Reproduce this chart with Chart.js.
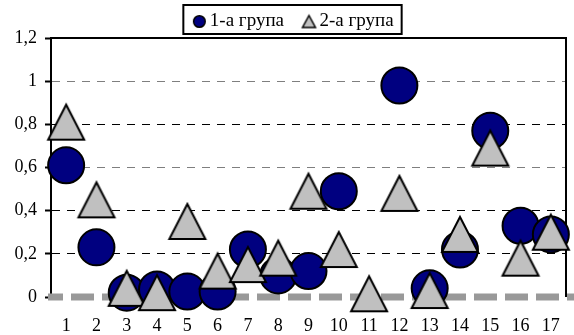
<!DOCTYPE html>
<html>
<head>
<meta charset="utf-8">
<script src="https://cdn.jsdelivr.net/npm/chart.js@4.4.1/dist/chart.umd.min.js"></script>
<style>
  html, body { margin: 0; padding: 0; background: #ffffff; }
  #wrap { width: 574px; height: 335px; position: relative; }
  .fontwarm { position: absolute; left: -1000px; top: 0; font: 18px "Liberation Serif"; }
</style>
</head>
<body>
<div id="wrap"><canvas id="chart" width="574" height="335"></canvas></div>
<span class="fontwarm">1-а група 0,2</span>
<script>
// Categories along the x axis
const categories = ['1', '2', '3', '4', '5', '6', '7', '8', '9', '10', '11', '12', '13', '14', '15', '16', '17'];

// Series values
const group1 = [0.61, 0.23, 0.02, 0.035, 0.025, 0.025, 0.22, 0.10, 0.12, 0.49, null, 0.98, 0.04, 0.22, 0.77, 0.33, 0.29];
const group2 = [0.81, 0.45, 0.04, 0.02, 0.35, 0.12, 0.15, 0.18, 0.49, 0.22, 0.015, 0.48, 0.03, 0.29, 0.69, 0.18, 0.30];

// Series names and y tick labels
const seriesNames = ['1-а група', '2-а група'];
const yTickLabels = ['0', '0,2', '0,4', '0,6', '0,8', '1', '1,2'];

const FONT = "'Liberation Serif', 'Times New Roman', serif";
const LEGEND_SHIFT = 13;

// Isosceles triangle marker drawn onto its own small canvas
function triangleMarker(w, h, lw) {
  const pad = Math.ceil(lw * 2);
  const c = document.createElement('canvas');
  c.width = w + pad * 2;
  c.height = h + pad * 2;
  const g = c.getContext('2d');
  g.beginPath();
  g.moveTo(pad + w / 2, pad);
  g.lineTo(pad + w, pad + h);
  g.lineTo(pad, pad + h);
  g.closePath();
  g.fillStyle = '#c0c0c0';
  g.fill();
  g.lineWidth = lw;
  g.lineJoin = 'miter';
  g.strokeStyle = '#000000';
  g.stroke();
  return c;
}

// Filled circle marker for the legend
function circleMarker(r, lw) {
  const size = Math.ceil((r + lw) * 2) + 2;
  const c = document.createElement('canvas');
  c.width = size;
  c.height = size;
  const g = c.getContext('2d');
  g.beginPath();
  g.arc(size / 2, size / 2, r, 0, Math.PI * 2);
  g.fillStyle = '#000080';
  g.fill();
  g.lineWidth = lw;
  g.strokeStyle = '#000000';
  g.stroke();
  return c;
}

// Frame: top and right border plus the heavy dashed zero line
const framePlugin = {
  id: 'frame',
  beforeDatasetsDraw(chart) {
    const { ctx, chartArea, scales } = chart;
    ctx.save();
    ctx.strokeStyle = '#000000';
    ctx.lineWidth = 2;
    ctx.beginPath();
    ctx.moveTo(chartArea.left, chartArea.top);
    ctx.lineTo(chartArea.right, chartArea.top);
    ctx.lineTo(chartArea.right, chartArea.bottom);
    ctx.stroke();

    const y0 = scales.y.getPixelForValue(0);
    ctx.strokeStyle = '#999999';
    ctx.lineWidth = 7;
    ctx.setLineDash([23, 8]);
    ctx.lineDashOffset = 8;
    ctx.beginPath();
    ctx.moveTo(chartArea.left - 3, y0);
    ctx.lineTo(chart.width, y0);
    ctx.stroke();
    ctx.restore();
  }
};

// Legend nudged right of centre, with a rectangle round its items
const legendBoxPlugin = {
  id: 'legendBox',
  afterUpdate(chart) {
    const lg = chart.legend;
    if (!lg) return;
    lg.left += LEGEND_SHIFT;
    lg.right += LEGEND_SHIFT;
    (lg.legendHitBoxes || []).forEach(h => { h.left += LEGEND_SHIFT; });
  },
  afterDraw(chart) {
    const lg = chart.legend;
    if (!lg || !lg.legendHitBoxes || !lg.legendHitBoxes.length) return;
    const boxes = lg.legendHitBoxes;
    let l = Infinity, r = -Infinity, t = Infinity, b = -Infinity;
    boxes.forEach(h => {
      l = Math.min(l, h.left);
      r = Math.max(r, h.left + h.width);
      t = Math.min(t, h.top);
      b = Math.max(b, h.top + h.height);
    });
    const ctx = chart.ctx;
    ctx.save();
    ctx.strokeStyle = '#000000';
    ctx.lineWidth = 2;
    ctx.strokeRect(l - 15, t - 7, (r - l) + 23, (b - t) + 10);
    ctx.restore();
  }
};

function draw() {
  Chart.defaults.font.family = FONT;
  const bigTriangle = triangleMarker(36, 35, 2);
  const legendTriangle = triangleMarker(13, 12, 1.5);
  const legendCircle = circleMarker(5.8, 1.5);

  new Chart(document.getElementById('chart'), {
    type: 'line',
    data: {
      labels: categories,
      datasets: [
        {
          label: seriesNames[0],
          data: group1,
          showLine: false,
          pointStyle: 'circle',
          pointRadius: 18,
          pointHoverRadius: 18,
          backgroundColor: '#000080',
          borderColor: '#000000',
          pointBorderWidth: 2,
          clip: false,
          order: 2
        },
        {
          label: seriesNames[1],
          data: group2,
          showLine: false,
          pointStyle: bigTriangle,
          pointRadius: 18,
          pointHoverRadius: 18,
          backgroundColor: '#c0c0c0',
          borderColor: '#000000',
          clip: false,
          order: 1
        }
      ]
    },
    options: {
      responsive: false,
      animation: false,
      devicePixelRatio: 1,
      layout: { autoPadding: false, padding: { top: -12, right: 8, bottom: 0, left: 0 } },
      plugins: {
        tooltip: { enabled: false },
        legend: {
          display: true,
          position: 'top',
          maxHeight: 50,
          labels: {
            usePointStyle: true,
            pointStyleWidth: 2,
            padding: 24,
            color: '#000000',
            font: { family: FONT, size: 19 },
            generateLabels(chart) {
              return chart.data.datasets.map((ds, i) => ({
                text: ds.label,
                pointStyle: i === 0 ? legendCircle : legendTriangle,
                fillStyle: ds.backgroundColor,
                strokeStyle: '#000000',
                lineWidth: 0,
                hidden: false,
                datasetIndex: i,
                fontColor: '#000000'
              }));
            }
          }
        }
      },
      scales: {
        x: {
          type: 'category',
          offset: true,
          grid: {
            display: true,
            drawOnChartArea: false,
            drawTicks: true,
            tickLength: 18,
            color: 'rgba(0,0,0,0)'
          },
          border: { display: false },
          ticks: {
            color: '#000000',
            font: { family: FONT, size: 18 },
            padding: 0,
            maxRotation: 0,
            autoSkip: false
          },
          afterFit(scale) { scale.height = 38; }
        },
        y: {
          min: 0,
          max: 1.2,
          ticks: {
            stepSize: 0.2,
            color: '#000000',
            font: { family: FONT, size: 18 },
            padding: 8,
            callback(value) { return yTickLabels[Math.round(value / 0.2)]; }
          },
          border: { display: true, color: '#000000', width: 2, dash: [8, 7] },
          grid: {
            drawTicks: true,
            tickLength: 6,
            tickColor: '#000000',
            tickWidth: 2,
            tickBorderDash: [],
            lineWidth: 1,
            color(ctx) {
              const v = ctx.tick ? Math.round(ctx.tick.value * 10) / 10 : -1;
              if (v === 0 || v === 1.2) return 'rgba(0,0,0,0)';
              if (v === 1 || v === 0.6) return '#7f7f7f';
              return '#000000';
            }
          },
          afterFit(scale) { scale.width = 51; }
        }
      }
    },
    plugins: [framePlugin, legendBoxPlugin]
  });
}

if (document.fonts && document.fonts.load) {
  document.fonts.load("18px 'Liberation Serif'").then(draw, draw);
} else {
  draw();
}
</script>
</body>
</html>
